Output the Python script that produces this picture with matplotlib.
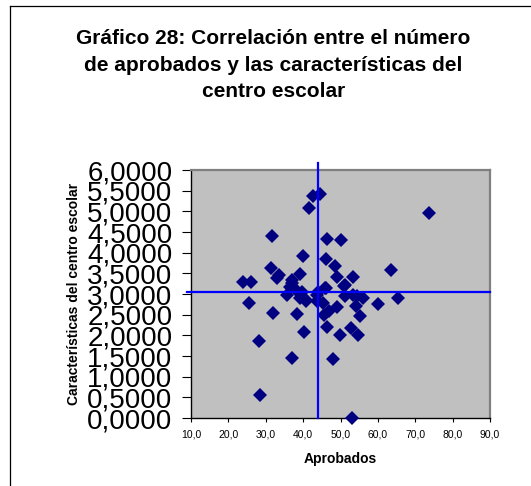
import matplotlib
matplotlib.use("Agg")
from matplotlib import pyplot as plt
from matplotlib.lines import Line2D
from matplotlib.ticker import FuncFormatter

# datos
aprobados = [42.6, 44.5, 41.7, 73.8, 31.7, 46.3, 50.1, 39.9, 46.0, 48.6,
             63.4, 31.5, 39.2, 32.9, 49.0, 53.4, 23.8, 26.1, 37.0, 50.9,
             36.5, 38.3, 35.6, 46.0, 44.1, 51.3, 53.4, 56.1, 65.5, 25.4,
             39.2, 40.8, 43.8, 45.4, 49.0, 54.2, 59.9, 32.0, 38.3, 45.6,
             55.2, 46.3, 40.1, 49.9, 52.9, 54.7, 28.1, 37.0, 47.9, 28.5,
             53.1, 51.2, 45.8, 43.6, 54.3, 39.6, 36.9, 40.9, 47.0, 33.5]
caracteristicas = [5.37, 5.41, 5.07, 4.95, 4.40, 4.32, 4.31, 3.93, 3.85, 3.68,
                   3.57, 3.62, 3.49, 3.38, 3.42, 3.41, 3.30, 3.30, 3.34, 3.20,
                   3.18, 3.08, 2.98, 3.14, 3.04, 2.95, 2.98, 2.91, 2.90, 2.79,
                   2.90, 2.82, 2.84, 2.78, 2.68, 2.70, 2.76, 2.55, 2.52, 2.50,
                   2.46, 2.21, 2.07, 2.01, 2.17, 2.01, 1.87, 1.45, 1.43, 0.56,
                   0.00, 3.22, 3.14, 2.98, 2.94, 3.06, 3.26, 2.86, 2.60, 3.45]
media_x = 44.0
media_y = 3.06

x_ticks = [10, 20, 30, 40, 50, 60, 70, 80, 90]
y_ticks = [0, 0.5, 1, 1.5, 2, 2.5, 3, 3.5, 4, 4.5, 5, 5.5, 6]

plt.rcParams["font.family"] = ["Liberation Sans", "DejaVu Sans"]

fig = plt.figure(figsize=(5.31, 4.86), dpi=100)
ax = fig.add_axes([0.3597, 0.1399, 0.5631, 0.5103])
ax.set_facecolor("#C0C0C0")

ax.plot(aprobados, caracteristicas, "D", color="#000080", markersize=7,
        markeredgewidth=0, clip_on=False, zorder=3)

# lineas de las medias
ax.plot([media_x, media_x], [0, 6.17], color="#0000FF", lw=1.6,
        clip_on=False, zorder=4)
ax.plot([8.93, 90], [media_y, media_y], color="#0000FF", lw=1.6,
        clip_on=False, zorder=4)

ax.set_xlim(10, 90)
ax.set_ylim(0, 6)
ax.set_xticks(x_ticks)
ax.set_yticks(y_ticks)
ax.xaxis.set_major_formatter(FuncFormatter(lambda v, p: f"{v:.1f}".replace(".", ",")))
ax.yaxis.set_major_formatter(FuncFormatter(lambda v, p: f"{v:.4f}".replace(".", ",")))
ax.tick_params(axis="y", labelsize=20, length=6.5, width=0.8, direction="out", pad=7)
ax.tick_params(axis="x", labelsize=7.5, length=3, width=0.8, direction="out", pad=5)

for s in ["top", "right"]:
    ax.spines[s].set_color("#808080")
    ax.spines[s].set_linewidth(1.6)
for s in ["left", "bottom"]:
    ax.spines[s].set_color("black")
    ax.spines[s].set_linewidth(1.0)

ax.set_xlabel("Aprobados", fontsize=10, fontweight="bold", labelpad=9)
ax.set_ylabel("Características del centro escolar", fontsize=10,
              fontweight="bold", labelpad=4)

fig.text(0.515, 0.866, "Gráfico 28: Correlación entre el número\n"
         "de aprobados y las características del\ncentro escolar",
         ha="center", va="center", fontsize=15, fontweight="bold",
         linespacing=1.5)

# marco del grafico
fig.add_artist(Line2D([10 / 531, 10 / 531], [0, 1 - 6 / 486], color="black", lw=0.9))
fig.add_artist(Line2D([10 / 531, 1], [1 - 6 / 486, 1 - 6 / 486], color="black", lw=0.9))

fig.savefig("out.png", dpi=100)
